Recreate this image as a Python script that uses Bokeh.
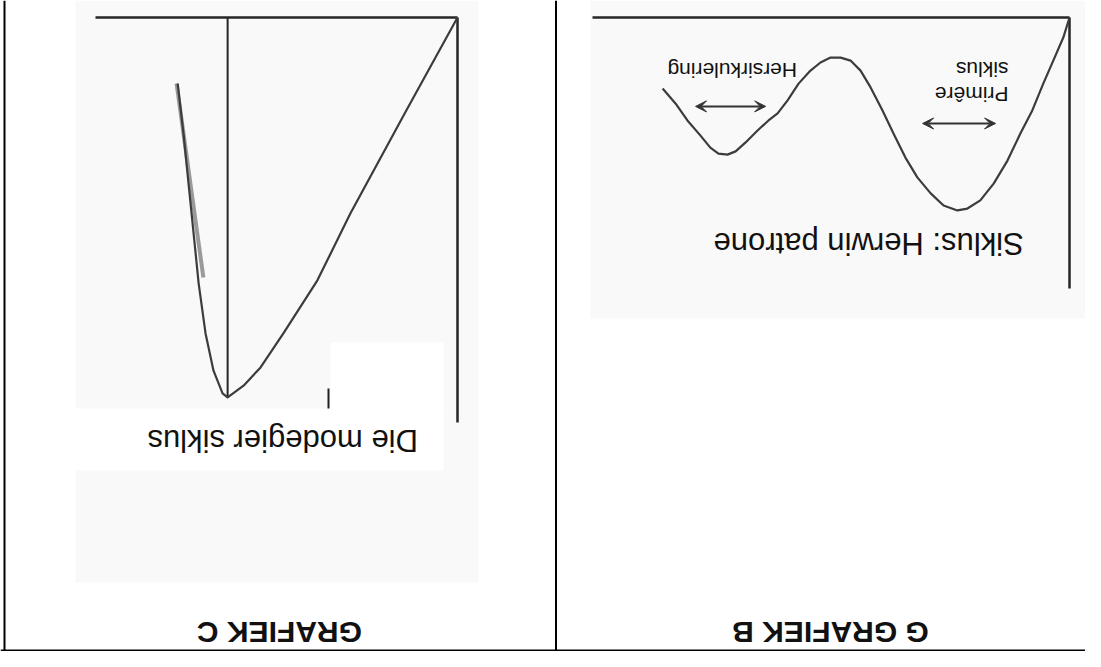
import numpy as np
from bokeh.plotting import figure
from bokeh.models import Range1d, Arrow, VeeHead, ColumnDataSource
from bokeh.core.properties import value
from bokeh.embed import file_html
from bokeh.resources import INLINE

# ---------------- DATA (chart units, original orientation) ----------------
# GRAFIEK C : Die modegier siklus
c_curve_x = [0.0, 1.46, 2.96, 3.87, 4.81, 5.44, 5.91, 6.35, 6.49, 6.74, 6.96, 7.15, 7.29, 7.43, 7.57, 7.73]
c_curve_y = [0.0, 2.37, 4.84, 6.49, 7.80, 8.64, 9.09, 9.38, 9.28, 8.72, 7.80, 6.57, 5.33, 4.10, 2.86, 1.63]
c_tangent_x = [7.76, 7.02]
c_tangent_y = [1.63, 6.42]
c_peak_x = 6.35
c_peak_y = 9.38
c_axis_len = 10.0
c_labels = ["Die modegier siklus", "GRAFIEK C"]
c_label_x = [4.83, 4.92]
c_label_y = [10.45, 15.18]

# GRAFIEK B : Siklus: Herwin patrone
b_curve_x = [0.0, 0.13, 0.34, 0.55, 0.78, 1.03, 1.30, 1.59, 1.87, 2.14, 2.35, 2.64, 2.91,
             3.19, 3.44, 3.69, 3.92, 4.17, 4.38, 4.59, 4.80, 5.01, 5.22, 5.43, 5.68, 5.91,
             6.12, 6.31, 6.54, 6.79, 7.00, 7.17, 7.36, 7.53, 7.74, 8.01, 8.26, 8.53]
b_curve_y = [0.0, 0.74, 1.59, 2.44, 3.43, 4.28, 5.28, 6.13, 6.75, 7.05, 7.12, 6.94, 6.49,
             5.90, 5.17, 4.28, 3.43, 2.58, 1.96, 1.59, 1.48, 1.48, 1.66, 1.96, 2.44, 3.06,
             3.54, 3.80, 4.17, 4.61, 4.94, 5.06, 5.02, 4.80, 4.35, 3.80, 3.17, 2.62]
b_axis_len = 10.0
b_arrow_x0 = [1.55, 6.37]
b_arrow_x1 = [3.08, 7.84]
b_arrow_y = [3.91, 3.28]
b_small_labels = ["Primêre", "siklus"]
b_small_x = [1.28, 1.28]
b_small_y = [2.84, 1.92]
b_recyc_label = ["Hersirkulering"]
b_recyc_x = [7.07]
b_recyc_y = [1.96]
b_labels = ["Siklus: Herwin patrone", "G GRAFIEK B"]
b_label_x = [4.21, 5.01]
b_label_y = [8.34, 22.68]

# ---------------- LAYOUT ----------------
W, H = 1085, 651

p = figure(width=W, height=H,
           x_range=Range1d(0, W), y_range=Range1d(H, 0),
           output_backend="svg", toolbar_location=None,
           x_axis_type=None, y_axis_type=None, min_border=0)
p.outline_line_color = None
p.background_fill_color = "white"
p.border_fill_color = "white"


def panel_ranges(ox, oy, sx, sy):
    # chart drawn rotated by 180 degrees: origin at (ox, oy) in px
    xr = Range1d(start=ox / sx, end=(ox - W) / sx)
    yr = Range1d(start=(H - oy) / sy, end=(0 - oy) / sy)
    return xr, yr


cxr, cyr = panel_ranges(457, 17, 36.2, 40.5)
bxr, byr = panel_ranges(1069, 17, 47.7, 27.1)
p.extra_x_ranges = {"c": cxr, "b": bxr}
p.extra_y_ranges = {"c": cyr, "b": byr}

# scanned backgrounds (decoration)
scan = "#f8f9f8"
p.quad(left=[75, 590], right=[478, 1085], top=[0, 0], bottom=[582, 318],
       fill_color=scan, line_color=None)
p.quad(left=[75, 330], right=[443, 443], top=[408, 342], bottom=[470, 408],
       fill_color="white", line_color=None)
p.segment(x0=[328], y0=[388], x1=[328], y1=[408], line_color="#222", line_width=2)

# table borders
p.segment(x0=[4, 0, 555.5], y0=[0, 650, 0], x1=[4, W, 555.5], y1=[H, 650, H],
          line_color="black", line_width=2)

axis_col = "#262626"
curve_col = "#3c3c3c"
font = value("Liberation Sans")

# ---------- GRAFIEK C ----------
p.line([0, c_axis_len], [0, 0], x_range_name="c", y_range_name="c", line_color=axis_col, line_width=2.5)
p.line([0, 0], [0, c_axis_len], x_range_name="c", y_range_name="c", line_color=axis_col, line_width=2.5)
p.line([c_peak_x, c_peak_x], [0, c_peak_y], x_range_name="c", y_range_name="c", line_color=axis_col, line_width=2)
p.line(c_tangent_x, c_tangent_y, x_range_name="c", y_range_name="c", line_color="#9a9a9a", line_width=4)
p.line(c_curve_x, c_curve_y, x_range_name="c", y_range_name="c", line_color=curve_col, line_width=2.2,
       line_join="round")
p.text(x=c_label_x[:1], y=c_label_y[:1], text=c_labels[:1], angle=np.pi,
       x_range_name="c", y_range_name="c", text_align="center", text_baseline="alphabetic",
       text_font=font, text_font_size=value("31px"), text_color="#111")
p.text(x=c_label_x[1:], y=c_label_y[1:], text=c_labels[1:], angle=np.pi,
       x_range_name="c", y_range_name="c", text_align="center", text_baseline="alphabetic",
       text_font=font, text_font_size=value("30px"), text_font_style="bold", text_color="#111")

# ---------- GRAFIEK B ----------
p.line([0, b_axis_len], [0, 0], x_range_name="b", y_range_name="b", line_color=axis_col, line_width=2.5)
p.line([0, 0], [0, b_axis_len], x_range_name="b", y_range_name="b", line_color=axis_col, line_width=2.5)
p.line(b_curve_x, b_curve_y, x_range_name="b", y_range_name="b", line_color=curve_col, line_width=2.2,
       line_join="round")

arr_src = ColumnDataSource(dict(x0=b_arrow_x0, x1=b_arrow_x1, y=b_arrow_y))
p.add_layout(Arrow(x_start="x0", y_start="y", x_end="x1", y_end="y", source=arr_src,
                   x_range_name="b", y_range_name="b", line_color="#333", line_width=2,
                   start=VeeHead(size=11, fill_color="#333", line_color="#333"),
                   end=VeeHead(size=11, fill_color="#333", line_color="#333")))

p.text(x=b_small_x, y=b_small_y, text=b_small_labels, angle=np.pi,
       x_range_name="b", y_range_name="b", text_align="left", text_baseline="alphabetic",
       text_font=font, text_font_size=value("21px"), text_color="#111")
p.text(x=b_recyc_x, y=b_recyc_y, text=b_recyc_label, angle=np.pi,
       x_range_name="b", y_range_name="b", text_align="center", text_baseline="alphabetic",
       text_font=font, text_font_size=value("21px"), text_color="#111")
p.text(x=b_label_x[:1], y=b_label_y[:1], text=b_labels[:1], angle=np.pi,
       x_range_name="b", y_range_name="b", text_align="center", text_baseline="alphabetic",
       text_font=font, text_font_size=value("31px"), text_color="#111")
p.text(x=b_label_x[1:], y=b_label_y[1:], text=b_labels[1:], angle=np.pi,
       x_range_name="b", y_range_name="b", text_align="center", text_baseline="alphabetic",
       text_font=font, text_font_size=value("30px"), text_font_style="bold", text_color="#111")

open("out.html", "w").write(file_html(p, INLINE))
